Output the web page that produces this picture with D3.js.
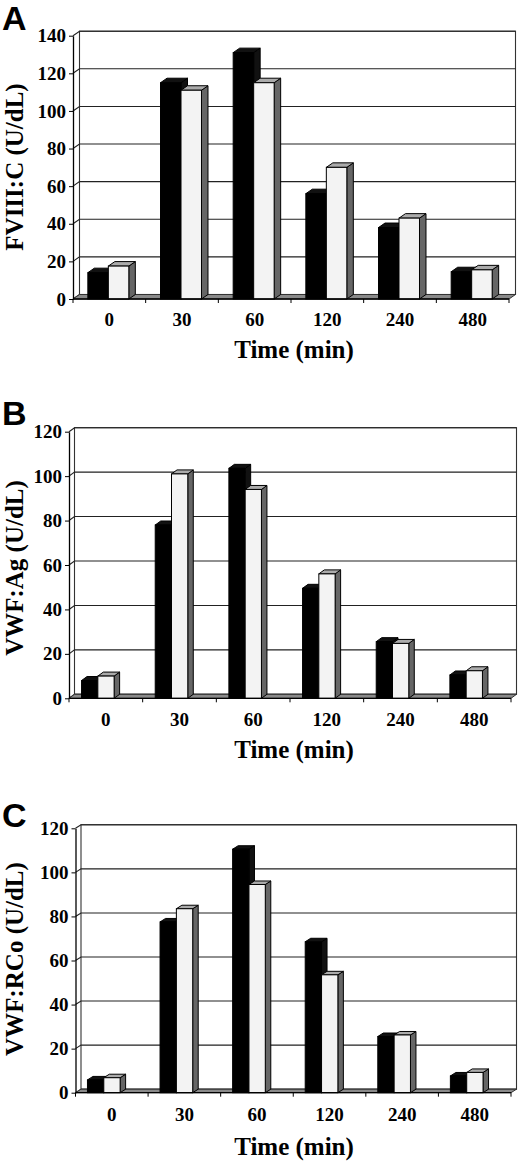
<!DOCTYPE html>
<html><head><meta charset="utf-8">
<script src="https://cdn.jsdelivr.net/npm/d3@7"></script>
<style>body{margin:0;background:#fff}svg{display:block}</style>
</head><body>
<script>
// ---- data ----
const categories = ["0","30","60","120","240","480"];
const fviiiBlack = [14, 115, 131, 56, 38, 14.5];
const fviiiWhite = [17.5, 111, 115, 70, 43, 15.5];
const vwfAgBlack = [8, 78, 103.5, 49.5, 25.5, 10.5];
const vwfAgWhite = [10, 101, 94, 56, 24.7, 12.4];
const vwfRCoBlack = [5.8, 77.5, 110.5, 68.5, 25.5, 7.6];
const vwfRCoWhite = [6.8, 83.5, 94.5, 53.5, 26.2, 9.2];
const ticksA = [0,20,40,60,80,100,120,140];
const ticksBC = [0,20,40,60,80,100,120];
const panelLetters = ["A","B","C"];
const yTitles = ["FVIII:C (U/dL)","VWF:Ag (U/dL)","VWF:RCo (U/dL)"];
const xTitle = "Time (min)";

const svg = d3.select("body").append("svg").attr("width",520).attr("height",1166);
const serif = "'Liberation Serif','Times New Roman',serif";
const sans = "'Liberation Sans',Arial,sans-serif";

const panels = [
  {letter:panelLetters[0], title:yTitles[0], black:fviiiBlack, white:fviiiWhite, ticks:ticksA, max:140,
   xL:73, xR:509, y0:299, yMax:35.7, dx:6.5, dy:-4.5, bwFrac:0.282, shift:-1,
   letterY:30, labelY:326, xTitleY:358, yTitleY:167},
  {letter:panelLetters[1], title:yTitles[1], black:vwfAgBlack, white:vwfAgWhite, ticks:ticksBC, max:120,
   xL:69, xR:511, y0:698.3, yMax:431.7, dx:5.5, dy:-4, bwFrac:0.221, shift:-8,
   letterY:425, labelY:726, xTitleY:758, yTitleY:568},
  {letter:panelLetters[2], title:yTitles[2], black:vwfRCoBlack, white:vwfRCoWhite, ticks:ticksBC, max:120,
   xL:75.5, xR:511, y0:1092.7, yMax:828.3, dx:5.5, dy:-3.5, bwFrac:0.225, shift:-8,
   letterY:827, labelY:1121, xTitleY:1155, yTitleY:959}
];

function poly(g, pts, fill, stroke){
  g.append("polygon").attr("points", pts.map(p=>p.join(",")).join(" "))
   .attr("fill", fill).attr("stroke", stroke||"#000").attr("stroke-width",1).attr("stroke-linejoin","round");
}

panels.forEach(p=>{
  const g = svg.append("g");
  const x = d3.scaleBand().domain(categories).range([p.xL, p.xR]).paddingInner(0).paddingOuter(0);
  const y = d3.scaleLinear().domain([0, p.max]).range([p.y0, p.yMax]);
  const dx = p.dx, dy = p.dy;

  // back wall
  g.append("rect").attr("x", p.xL+dx).attr("y", y(p.max)+dy).attr("width", p.xR-p.xL)
   .attr("height", y(0)-y(p.max)).attr("fill","#fff").attr("stroke","#333").attr("stroke-width",1.1);
  // gridlines
  p.ticks.forEach(t=>{
    g.append("polyline").attr("points", `${p.xL},${y(t)} ${p.xL+dx},${y(t)+dy} ${p.xR+dx},${y(t)+dy}`)
     .attr("fill","none").attr("stroke","#222").attr("stroke-width",1.1);
  });
  // floor
  poly(g, [[p.xL,y(0)],[p.xR,y(0)],[p.xR+dx,y(0)+dy],[p.xL+dx,y(0)+dy]], "#8a8a8a", "#333");

  // bars
  const bw = x.bandwidth()*p.bwFrac;
  categories.forEach((c,i)=>{
    const cx = x(c) + x.bandwidth()/2 + p.shift;
    [[p.black[i], cx-bw, "#000","#111","#111"],[p.white[i], cx, "#f3f3f3","#ababab","#666"]].forEach(([v,bx,front,top,side])=>{
      const yt = y(v), yb = y(0);
      poly(g, [[bx+bw,yb],[bx+bw+dx,yb+dy],[bx+bw+dx,yt+dy],[bx+bw,yt]], side);
      poly(g, [[bx,yt],[bx+dx,yt+dy],[bx+bw+dx,yt+dy],[bx+bw,yt]], top);
      g.append("rect").attr("x",bx).attr("y",yt).attr("width",bw).attr("height",yb-yt)
       .attr("fill",front).attr("stroke","#000").attr("stroke-width",1);
    });
  });

  // y axis
  const ya = g.append("g").attr("transform",`translate(${p.xL},0)`)
    .call(d3.axisLeft(y).tickValues(p.ticks).tickSize(4).tickSizeOuter(0).tickPadding(3).tickFormat(d3.format("d")));
  ya.select(".domain").attr("stroke","#000").attr("stroke-width",1.3);
  ya.selectAll(".tick line").attr("stroke","#000");
  ya.selectAll("text").attr("font-family",serif).attr("font-weight","bold").attr("font-size",19).attr("fill","#000");

  // x axis line and boundary ticks
  g.append("line").attr("x1",p.xL).attr("x2",p.xR).attr("y1",y(0)).attr("y2",y(0)).attr("stroke","#000").attr("stroke-width",1.3);
  categories.concat([null]).forEach(c=>{
    const xx = c===null ? p.xR : x(c);
    g.append("line").attr("x1",xx).attr("x2",xx).attr("y1",y(0)).attr("y2",y(0)+4).attr("stroke","#000");
  });
  // x labels
  categories.forEach(c=>{
    g.append("text").attr("x", x(c)+x.bandwidth()/2).attr("y", p.labelY).attr("text-anchor","middle")
     .attr("font-family",serif).attr("font-weight","bold").attr("font-size",19).text(c);
  });
  // x title
  g.append("text").attr("x", 294).attr("y", p.xTitleY).attr("text-anchor","middle")
   .attr("font-family",serif).attr("font-weight","bold").attr("font-size",25).text(xTitle);
  // y title
  g.append("text").attr("transform",`translate(23,${p.yTitleY}) rotate(-90)`).attr("text-anchor","middle")
   .attr("font-family",serif).attr("font-weight","bold").attr("font-size",25).text(p.title);
  // panel letter
  g.append("text").attr("x",2).attr("y",p.letterY).attr("font-family",sans).attr("font-weight","bold")
   .attr("font-size",34).text(p.letter);
});
</script>
</body></html>
